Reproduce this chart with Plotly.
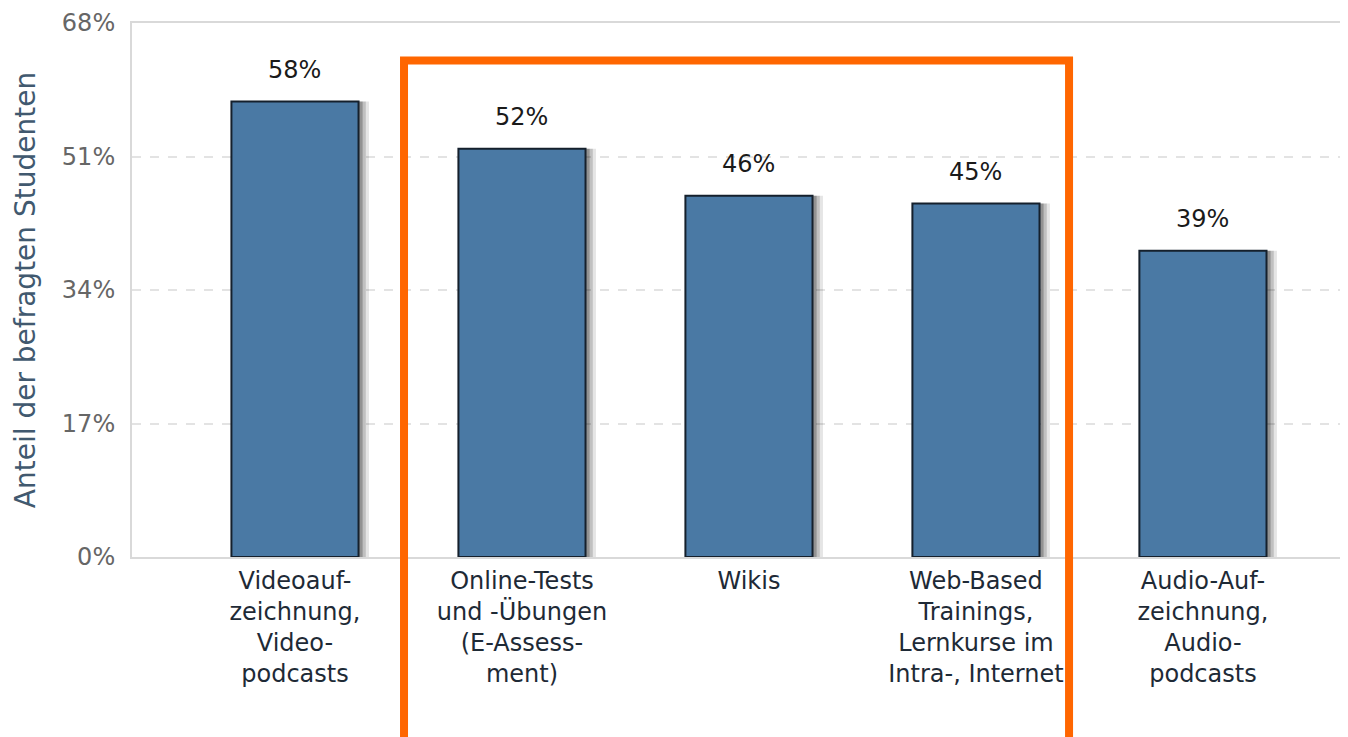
import plotly.graph_objects as go

categories = [
    "Videoauf-<br>zeichnung,<br>Video-<br>podcasts",
    "Online-Tests<br>und -Übungen<br>(E-Assess-<br>ment)",
    "Wikis",
    "Web-Based<br>Trainings,<br>Lernkurse im<br>Intra-, Internet",
    "Audio-Auf-<br>zeichnung,<br>Audio-<br>podcasts",
]
values = [58, 52, 46, 45, 39]
labels = [f"{v}%" for v in values]
y_ticks = [0, 17, 34, 51, 68]
y_tick_text = [f"{t}%" for t in y_ticks]

xs = list(range(len(categories)))
bar_w = 0.56
FONT = "DejaVu Sans"

fig = go.Figure()

# soft drop shadow layers
for d, op in [(0.046, 0.10), (0.032, 0.16), (0.018, 0.24)]:
    fig.add_trace(go.Bar(
        x=xs, y=values, width=bar_w, offset=-bar_w / 2 + d,
        marker=dict(color=f"rgba(0,0,0,{op})", line=dict(width=0)),
        hoverinfo="skip", showlegend=False,
    ))

fig.add_trace(go.Bar(
    x=xs, y=values, width=bar_w,
    marker=dict(color="#4a79a4", line=dict(color="#15202c", width=2)),
    showlegend=False,
))

annotations = [
    dict(x=x, y=v, xref="x", yref="y", text=t, showarrow=False,
         yanchor="bottom", yshift=16,
         font=dict(family=FONT, size=24, color="#1a1a1a"))
    for x, v, t in zip(xs, values, labels)
]

fig.update_layout(
    barmode="overlay",
    width=1340, height=729,
    margin=dict(l=124, r=0, t=15, b=180),
    paper_bgcolor="white", plot_bgcolor="white",
    xaxis=dict(
        range=[-0.718, 4.639],
        tickvals=xs, ticktext=categories,
        tickfont=dict(family=FONT, size=24, color="#1e2a36"),
        showgrid=False, zeroline=False,
        showline=True, linecolor="#d9d9d9", linewidth=2, mirror=True,
        ticks="", ticklabelstandoff=1,
    ),
    yaxis=dict(
        range=[0, 68],
        tickvals=y_ticks, ticktext=y_tick_text,
        tickfont=dict(family=FONT, size=24, color="#666666"),
        showgrid=True, gridcolor="#e3e3e3", griddash="dash", gridwidth=1.5,
        zeroline=False,
        showline=True, linecolor="#d9d9d9", linewidth=2,
        ticks="", ticklabelstandoff=10,
        title=dict(text="Anteil der befragten Studenten",
                   font=dict(family=FONT, size=28, color="#41596f"),
                   standoff=18),
    ),
    annotations=annotations,
    shapes=[dict(
        type="rect", xref="paper", yref="paper",
        x0=0.2237, x1=0.7706, y0=-0.365, y1=0.9297,
        line=dict(color="#ff6600", width=8), fillcolor="rgba(0,0,0,0)",
        layer="above",
    )],
    hovermode=False,
)

fig.write_html("out.html")
